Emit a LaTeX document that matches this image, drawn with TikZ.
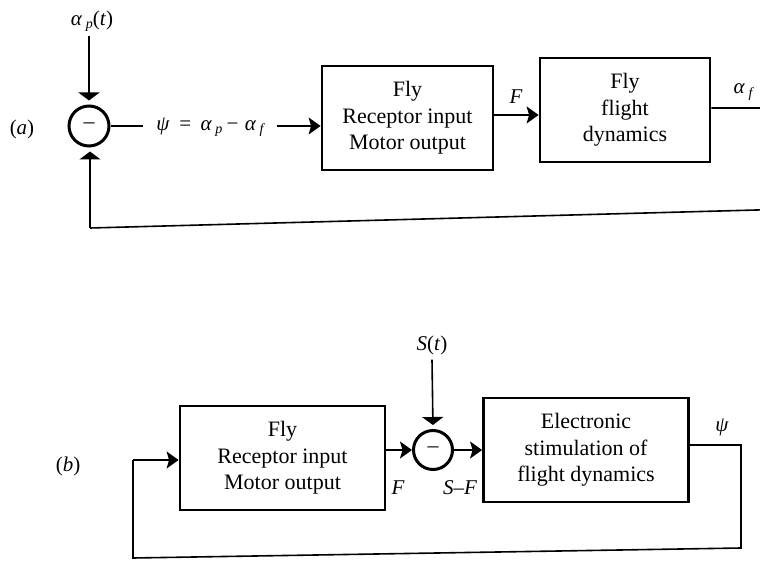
\documentclass[tikz,border=0pt]{standalone}
\usepackage{fontspec}
\setmainfont{Liberation Serif}
\usetikzlibrary{arrows.meta}
\newcommand\lowsub[1]{\,\raisebox{-0.35ex}{\fontsize{14}{14}\selectfont\itshape #1}}
\tikzset{
  blk/.style={draw, line width=2.8pt, align=center, inner sep=0pt,
    font=\fontsize{22}{26.5}\selectfont},
  sumc/.style={draw, circle, line width=3pt, minimum size=40pt, inner sep=0pt,
    font=\fontsize{22}{22}\selectfont},
  conn/.style={line width=1.6pt},
  inarr/.style={conn, -{Triangle[width=21pt,length=8pt]}, shorten >=4pt},
  barr/.style={conn, -{Stealth[length=12pt,width=17pt,inset=2.5pt]}},
  lbl/.style={font=\fontsize{21}{24}\selectfont, inner sep=0pt}
}
\begin{document}
\begin{tikzpicture}[x=1pt,y=-1pt]
\useasboundingbox (0,0) rectangle (760,561);
% ---------- (a) ----------
\node[lbl] (la) at (22,129) {(\textit{a})};
\node[sumc] (sumA) at (89,126) {\textendash};
\node[lbl] (apt) at (92,21) {\textit{α}\lowsub{p}(\textit{t})};
\node[lbl, inner xsep=13pt] (psi) at (210,127) {\textit{ψ}\hspace{0.45em}=\hspace{0.45em}\textit{α}\lowsub{p}\hspace{0.2em}−\hspace{0.3em}\textit{α}\lowsub{f}};
\node[blk, minimum width=171pt, minimum height=104pt] (box1a) at (407.5,118) {Fly\\Receptor input\\Motor output};
\node[blk, minimum width=170pt, minimum height=104pt] (box2a) at (625,110) {Fly\\flight\\dynamics};
\node[lbl] (Fa) at (516,97) {\textit{F}};
\node[lbl] (afa) at (743,92) {\textit{α}\lowsub{f}};
\coordinate (outA) at (775,108);
\coordinate (fbAR) at (775,209.5);
\coordinate (fbAL) at (90,228);

\draw[inarr] (sumA.north |- apt.south) ++(0,4) -- (sumA.north);
\draw[conn] (sumA.east) -- (sumA.east -| psi.west);
\draw[barr] (psi.east |- sumA.east) -- (box1a.west |- sumA.east);
\draw[barr] (box1a.east |- 0,115) -- (box2a.west |- 0,115);
\draw[conn] (box2a.east |- outA) -- (outA) -- (fbAR) -- (fbAL);
\draw[inarr] (fbAL) -- (fbAL |- sumA.south);

% ---------- (b) ----------
\node[lbl] (lb) at (68,466) {(\textit{b})};
\node[blk, minimum width=205pt, minimum height=104pt] (box1b) at (282.5,458) {Fly\\Receptor input\\Motor output};
\node[sumc, minimum size=39pt] (sumB) at (433,450) {\textendash};
\node[blk, minimum width=205pt, minimum height=104pt] (box2b) at (586,450) {Electronic\\stimulation of\\flight dynamics};
\node[lbl] (St) at (432,345) {\textit{S}(\textit{t})};
\node[lbl] (Fb) at (398,488) {\textit{F}};
\node[lbl] (SF) at (460,488) {\textit{S}–\textit{F}};
\node[lbl] (psib) at (722,427) {\textit{ψ}};
\coordinate (outB) at (741,445);
\coordinate (fbBR) at (741,548);
\coordinate (fbBL) at (133,558);
\coordinate (inB) at (133,460);

\draw[inarr] (St.south) ++(0,5) -- (sumB.north);
\draw[barr] (box1b.east |- sumB) -- (sumB.west);
\draw[barr] (sumB.east) -- (box2b.west |- sumB);
\draw[conn] (box2b.east |- outB) -- (outB) -- (fbBR) -- (fbBL) -- (inB);
\draw[barr] (inB) -- (box1b.west |- inB);
\end{tikzpicture}
\end{document}
